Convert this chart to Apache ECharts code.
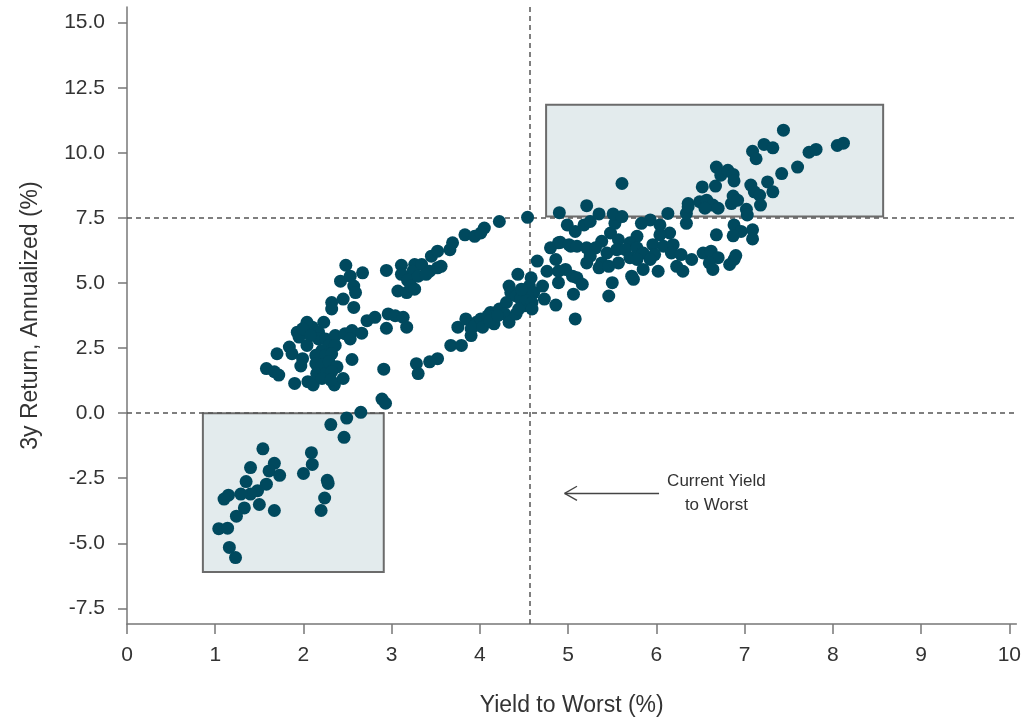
<!DOCTYPE html>
<html>
<head>
<meta charset="utf-8">
<script src="https://cdn.jsdelivr.net/npm/echarts@6/dist/echarts.min.js"></script>
<style>html,body{margin:0;padding:0;background:#fff;overflow:hidden}#c{width:1024px;height:722px}</style>
</head>
<body>
<div id="c"></div>
<script>
// ---- data: [yield to worst %, 3y annualized return %] ----
const lowerBoxPoints = [
  [1.54,-1.37],[1.67,-1.93],[1.40,-2.09],[1.61,-2.22],[1.73,-2.39],[1.35,-2.63],[1.58,-2.73],[1.48,-2.98],
  [1.40,-3.11],[1.29,-3.11],[1.15,-3.15],[1.10,-3.30],[1.50,-3.51],[1.33,-3.64],[1.67,-3.74],[1.24,-3.96],
  [1.04,-4.44],[1.14,-4.42],[1.16,-5.16],[1.23,-5.55],[2.09,-1.52],[2.10,-1.97],[2.00,-2.32],[2.27,-2.58],
  [2.28,-2.70],[2.24,-3.26],[2.20,-3.74],[2.31,-0.44],[2.46,-0.93],[2.49,-0.19],[2.65,0.03]
];
const leftLowPoints = [
  [2.23,3.49],[2.72,3.55],[2.81,3.68],[2.96,3.81],[3.04,3.74],[3.13,3.68],[2.94,3.26],[3.17,3.30],[2.10,3.30],
  [1.93,3.11],[2.17,3.11],[1.95,2.92],[2.04,2.60],[1.84,2.54],[1.70,2.28],[1.87,2.28],[1.99,2.09],[1.97,1.81],
  [1.58,1.71],[1.67,1.59],[1.72,1.46],[1.90,1.14],[2.05,1.21],[2.11,1.08],[2.35,1.08],[2.45,1.33],[2.55,2.06],
  [2.91,1.69],[2.17,2.85],[2.25,2.85],[2.36,2.98],[2.47,3.05],[2.55,3.17],[2.66,3.07],[2.53,2.85],[2.29,2.60],
  [2.36,2.60],[2.21,2.41],[2.14,2.22],[2.25,2.22],[2.32,2.28],[2.14,1.90],[2.21,1.84],[2.29,1.97],[2.38,1.78],
  [2.15,1.52],[2.25,1.52],[2.32,1.59],[2.21,1.33],[2.31,1.27],[2.04,3.49],[1.99,3.24],[2.08,2.98],[3.28,1.90],
  [3.30,1.52],[2.89,0.54],[2.93,0.38]
];
const upperBandPoints = [
  [2.48,5.68],[2.67,5.39],[2.94,5.48],[3.11,5.68],[3.26,5.71],[2.42,5.07],[2.53,5.26],[2.57,4.88],[2.59,4.63],
  [3.07,4.69],[3.17,4.63],[3.11,5.33],[2.32,4.25],[2.32,4.00],[2.45,4.38],[2.57,4.06],[3.24,5.45],[3.34,5.71],
  [3.43,5.45],[3.52,5.58],[3.56,5.64],[3.45,6.03],[3.52,6.22],[3.66,6.28],[3.69,6.54],[3.83,6.85],[3.94,6.79],
  [3.18,5.10],[3.22,4.88],[3.26,4.76],[3.30,5.26],[3.39,5.33],[4.22,7.36],[4.54,7.52],[4.05,7.11],[4.01,6.92]
];
const midBandPoints = [
  [3.75,3.30],[3.84,3.62],[3.90,3.24],[3.96,3.49],[3.67,2.60],[3.79,2.60],[3.52,2.09],[3.43,1.97],[3.90,2.98],
  [3.94,3.36],[4.01,3.62],[4.12,3.87],[4.22,4.00],[4.30,4.25],[4.28,3.81],[4.33,3.49],[4.41,3.81],[4.33,4.88],
  [4.43,5.33],[4.35,4.63],[4.41,4.50],[4.46,4.38],[4.50,4.12],[4.58,5.20],[4.56,4.88],[4.61,4.63],[4.54,4.50],
  [4.52,4.31],[4.59,4.25],[4.59,4.00],[4.44,4.00],[4.65,5.84],[4.71,4.88],[4.76,5.45],[4.73,4.38],[4.86,4.15],
  [4.16,3.43],[4.09,3.74],[4.03,3.30],[4.11,3.55],[4.20,3.74],[4.47,4.76]
];
const rightClusterPoints = [
  [4.80,6.35],[4.86,5.90],[4.89,6.54],[4.99,7.23],[5.03,6.41],[4.89,5.01],[4.97,5.52],[5.05,5.26],[5.06,4.57],
  [5.08,3.62],[5.08,6.98],[5.18,7.23],[5.25,7.36],[5.48,6.92],[5.78,6.79],[6.15,6.92],[6.04,6.85],[5.38,6.60],
  [5.57,6.66],[5.70,6.54],[4.91,6.56],[5.01,6.47],[5.10,6.41],[5.21,6.35],[5.31,6.35],[5.44,6.15],[5.55,6.28],
  [5.65,6.28],[5.78,6.35],[5.96,6.47],[6.08,6.41],[6.19,6.47],[6.17,6.15],[5.98,6.09],[5.85,6.15],[5.70,5.97],
  [5.78,5.90],[5.57,5.77],[5.38,5.77],[5.25,6.03],[5.21,5.77],[5.35,5.58],[5.46,5.64],[5.93,5.90],[5.85,5.52],
  [6.02,5.45],[5.72,5.26],[5.74,5.14],[5.50,5.01],[5.46,4.50],[6.28,6.09],[6.40,5.90],[6.23,5.64],[6.30,5.45],
  [6.53,6.15],[4.89,5.45],[5.10,5.20],[5.16,4.95],[5.53,7.29],[5.93,7.42],[5.83,7.29],[6.04,7.23],[6.34,7.29],
  [6.68,6.85],[6.88,7.23],[6.62,6.22],[6.70,5.97],[6.60,5.77],[6.83,5.71],[6.88,5.90],[6.64,5.52],[6.96,6.98],
  [6.87,6.81],[7.09,7.04],[7.09,6.69],[6.90,6.05]
];
const upperBoxPoints = [
  [4.90,7.70],[5.21,7.97],[5.35,7.65],[5.51,7.65],[5.61,7.55],[6.13,7.67],[6.34,7.67],[5.61,8.82],[6.52,8.69],
  [6.67,8.72],[6.36,8.05],[6.49,8.12],[6.57,8.18],[6.64,7.99],[6.55,7.87],[6.70,7.87],[6.85,8.05],[7.44,10.87],
  [8.05,10.28],[8.12,10.37],[7.73,10.02],[7.81,10.13],[7.09,10.06],[7.22,10.32],[7.32,10.19],[7.13,9.77],
  [7.60,9.45],[7.42,9.20],[7.26,8.88],[7.32,8.50],[6.68,9.45],[6.73,9.14],[6.81,9.33],[6.87,9.17],[6.88,8.92],
  [7.07,8.76],[7.11,8.50],[7.17,8.37],[7.18,7.99],[6.87,8.34],[6.92,8.18],[6.36,7.93],[7.02,7.83],[7.03,7.61]
];
// ticks
const xTicks = [0,1,2,3,4,5,6,7,8,9,10];
const yTicks = [-7.5,-5,-2.5,0,2.5,5,7.5,10,12.5,15];
// reference lines and highlight boxes (data units)
const currentYield = 4.57;
const returnLines = [0, 7.5];
const highBox = [[4.75, 7.55], [8.57, 11.85]];
const lowBox = [[0.86, 0], [2.91, -6.1]];
// annotation
const noteText = 'Current Yield\nto Worst';
const notePos = [6.68, -3.08];
const arrowFrom = [6.03, -3.08];
const arrowTo = [4.96, -3.08];
const arrowHead = [0.14, 0.27];

const allPoints = [].concat(lowerBoxPoints, leftLowPoints, upperBandPoints, midBandPoints, rightClusterPoints, upperBoxPoints);

const txt = '#333333';
const axisCol = '#777777';
const font = 'Liberation Sans, Arial, sans-serif';

const chart = echarts.init(document.getElementById('c'), null, {renderer: 'canvas', width: 1024, height: 722});
chart.setOption({
  animation: false,
  backgroundColor: '#ffffff',
  grid: {left: 127, right: -3, top: 7, bottom: 92, containLabel: false},
  xAxis: {
    type: 'value', min: 0, max: 10.08,
    name: 'Yield to Worst (%)', nameLocation: 'middle', nameGap: 70,
    nameTextStyle: {color: txt, fontSize: 23, fontFamily: font},
    axisLine: {show: true, onZero: false, lineStyle: {color: axisCol, width: 1.5}},
    axisTick: {show: true, length: 10, customValues: xTicks, lineStyle: {color: axisCol, width: 1.5}},
    axisLabel: {customValues: xTicks, margin: 21, color: txt, fontSize: 21, fontFamily: font},
    splitLine: {show: false}
  },
  yAxis: {
    type: 'value', min: -8.1, max: 15.6,
    name: '3y Return, Annualized (%)', nameLocation: 'middle', nameGap: 85, nameRotate: 90,
    nameTextStyle: {color: txt, fontSize: 23, fontFamily: font},
    axisLine: {show: true, onZero: false, lineStyle: {color: axisCol, width: 1.5}},
    axisTick: {show: true, length: 9, customValues: yTicks, lineStyle: {color: axisCol, width: 1.5}},
    axisLabel: {customValues: yTicks, margin: 22, color: txt, fontSize: 21, fontFamily: font,
      formatter: v => v.toFixed(1)},
    splitLine: {show: false}
  },
  series: [
    {
      type: 'scatter', data: [], z: 1, silent: true,
      markArea: {
        silent: true,
        itemStyle: {color: '#e3ebed', borderColor: '#6b6b6b', borderWidth: 2},
        label: {show: false},
        data: [
          [{coord: highBox[0]}, {coord: highBox[1]}],
          [{coord: lowBox[0]}, {coord: lowBox[1]}]
        ]
      }
    },
    {
      type: 'scatter', data: [], z: 2, silent: true,
      markLine: {
        silent: true, symbol: 'none', label: {show: false},
        lineStyle: {color: '#555555', width: 1.5, type: [5, 4]},
        data: [
          {xAxis: currentYield},
          {yAxis: returnLines[0]},
          {yAxis: returnLines[1]}
        ]
      }
    },
    {
      type: 'scatter', data: [], z: 2, silent: true,
      markLine: {
        silent: true, symbol: 'none', label: {show: false},
        lineStyle: {color: '#444444', width: 1.3, type: 'solid'},
        data: [
          [{coord: arrowFrom}, {coord: arrowTo}],
          [{coord: arrowTo}, {coord: [arrowTo[0] + arrowHead[0], arrowTo[1] + arrowHead[1]]}],
          [{coord: arrowTo}, {coord: [arrowTo[0] + arrowHead[0], arrowTo[1] - arrowHead[1]]}]
        ]
      },
      markPoint: {
        silent: true, symbol: 'circle', symbolSize: 1,
        itemStyle: {color: 'rgba(0,0,0,0)'},
        label: {show: true, position: 'inside', formatter: noteText, color: txt,
          fontSize: 17, lineHeight: 24, fontFamily: font, align: 'center'},
        data: [{coord: notePos}]
      }
    },
    {
      type: 'scatter', z: 5, symbol: 'circle', symbolSize: 13,
      itemStyle: {color: '#00495e', opacity: 1},
      data: allPoints
    }
  ]
});
</script>
</body>
</html>
